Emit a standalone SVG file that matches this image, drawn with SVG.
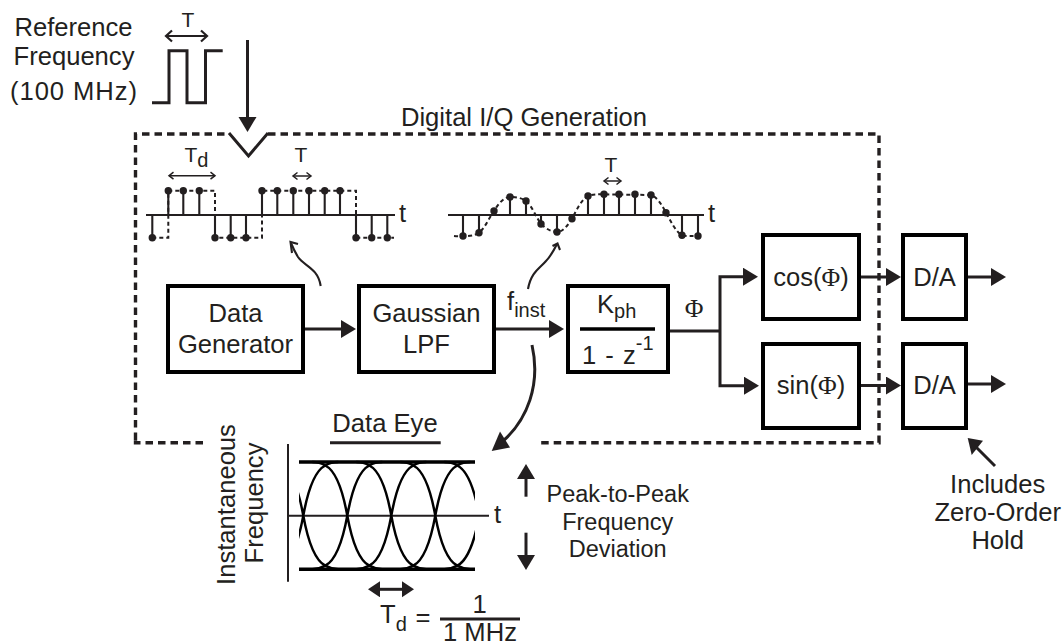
<svg xmlns="http://www.w3.org/2000/svg" width="1062" height="642" viewBox="0 0 1062 642">
<style>
text{font-family:"Liberation Sans",Arial,sans-serif;font-size:25.6px;fill:#231f20;text-anchor:middle}
.l{text-anchor:start}
.phi{font-family:"Liberation Serif","DejaVu Serif",serif}
.sm{font-size:21px}
.sub{font-size:20px}
.p{font-size:23.5px}
.box{fill:#fff;stroke:#000;stroke-width:4}
.w{fill:none;stroke:#231f20;stroke-width:3}
.t{fill:none;stroke:#231f20;stroke-width:2.100}
.d2{fill:none;stroke:#231f20;stroke-width:2;stroke-dasharray:4 3}
.ar{marker-end:url(#arr)}
.dot{fill:#231f20}
</style>
<defs>
<marker id="arr" markerUnits="userSpaceOnUse" markerWidth="18" markerHeight="20" refX="1" refY="9" orient="auto"><path d="M0 0L15 9L0 18z" fill="#231f20"/></marker>
<marker id="chev" markerUnits="userSpaceOnUse" markerWidth="12" markerHeight="14" refX="9" refY="7" orient="auto-start-reverse"><path d="M3 1.500L9 7L3 12.500" fill="none" stroke="#231f20" stroke-width="2.200"/></marker>
<marker id="chevS" markerUnits="userSpaceOnUse" markerWidth="10" markerHeight="10" refX="7" refY="5" orient="auto-start-reverse"><path d="M2.500 1.500L7 5L2.500 8.500" fill="none" stroke="#231f20" stroke-width="1.500"/></marker>
<marker id="solid" markerUnits="userSpaceOnUse" markerWidth="14" markerHeight="18" refX="1" refY="8" orient="auto-start-reverse"><path d="M0 0L12 8L0 16z" fill="#231f20"/></marker>
<clipPath id="eyeclip"><rect x="299" y="455" width="176" height="121"/></clipPath>
<path id="cross" fill="none" stroke="#000" stroke-width="2.500" d="M0 515.600C5 488 13 470 22 465.500C26 463 30 462 35 462M0 515.600C-5 488 -13 470 -22 465.500C-26 463 -30 462 -35 462M0 515.600C5 543 13 561 22 565.700C26 568 30 569.200 35 569.200M0 515.600C-5 543 -13 561 -22 565.700C-26 568 -30 569.200 -35 569.200"/>
</defs>

<g id="connectors">
<path fill="none" stroke="#231f20" stroke-width="3.400" stroke-dasharray="7.500 5" d="M135.500 440V134H229M268 134H879V442.700H539M203 442.700H135.500V440"/>
<path class="w" d="M229 133L248.500 156L268 133"/>
<line class="w ar" x1="247.500" y1="40" x2="247.500" y2="118"/>
<line class="w ar" x1="305" y1="329" x2="342" y2="329"/>
<line class="w ar" x1="496" y1="329" x2="550" y2="329"/>
<path class="w" d="M670 331H720"/>
<path class="w ar" d="M720 331V385.700H745"/>
<path class="w ar" d="M720 331V276.700H744"/>
<line class="w ar" x1="861" y1="277" x2="887" y2="277"/>
<line class="w ar" x1="861" y1="385.500" x2="887" y2="385.500"/>
<line class="w ar" x1="968" y1="277" x2="992" y2="277"/>
<line class="w ar" x1="968" y1="384" x2="992" y2="384"/>
<path class="w" d="M532 345C541 385 527 420 503 441"/>
<path d="M491.700 451L510 447.500L500 431.500z" fill="#231f20"/>
<path class="t" d="M320.700 286C318 268 304 266 298 257C295 252 293 248 291 243"/>
<path class="t" d="M298 244L290.500 242L292 253"/>
<path class="t" d="M528 289C531 272 540 268 546 261C551 256 554 250 557 244"/>
<path class="t" d="M552.500 246L557.500 243.500L560 250"/>
<line class="w" x1="995" y1="466" x2="976" y2="447"/>
<path d="M967.700 438L983 440.700L971.700 455z" fill="#231f20"/>
<line x1="166" y1="36" x2="207" y2="36" stroke="#231f20" stroke-width="2.200" marker-start="url(#chev)" marker-end="url(#chev)"/>
<path d="M152 102.700H169V50.700H187V102.700H205.500V50.700H222.700" fill="none" stroke="#231f20" stroke-width="3"/>
<line x1="169" y1="175.700" x2="215" y2="175.700" stroke="#231f20" stroke-width="1.500" marker-start="url(#chevS)" marker-end="url(#chevS)"/>
<line x1="293" y1="176" x2="311" y2="176" stroke="#231f20" stroke-width="1.500" marker-start="url(#chevS)" marker-end="url(#chevS)"/>
<line x1="604" y1="181" x2="621" y2="181" stroke="#231f20" stroke-width="1.500" marker-start="url(#chevS)" marker-end="url(#chevS)"/>
<line x1="379" y1="589.300" x2="403" y2="589.300" stroke="#231f20" stroke-width="3" marker-start="url(#solid)" marker-end="url(#solid)"/>
<line class="w ar" x1="526" y1="496.700" x2="526" y2="478"/>
<line class="w ar" x1="526" y1="532.700" x2="526" y2="556"/>
</g>

<g id="wave-square">
<path d="M146 215H395" class="t"/>
<path class="d2" d="M152.300 237.700H168.300V190.700H215V237.700H262V190.700H356V237.700H394"/>
<path class="t" d="M152.300 215V237.700M168.300 215V190.700M183.300 215V190.700M199.300 215V190.700M215 215V237.700M230.700 215V237.700M246 215V237.700M262 215V190.700M277.300 215V190.700M293.300 215V190.700M309 215V190.700M324.700 215V190.700M340 215V190.700M356 215V237.700M371.700 215V237.700M387.300 215V237.700"/>
<g class="dot">
<circle cx="152.300" cy="237.700" r="3.700"/><circle cx="168.300" cy="190.700" r="3.700"/><circle cx="183.300" cy="190.700" r="3.700"/><circle cx="199.300" cy="190.700" r="3.700"/><circle cx="215" cy="237.700" r="3.700"/><circle cx="230.700" cy="237.700" r="3.700"/><circle cx="246" cy="237.700" r="3.700"/><circle cx="262" cy="190.700" r="3.700"/><circle cx="277.300" cy="190.700" r="3.700"/><circle cx="293.300" cy="190.700" r="3.700"/><circle cx="309" cy="190.700" r="3.700"/><circle cx="324.700" cy="190.700" r="3.700"/><circle cx="340" cy="190.700" r="3.700"/><circle cx="356" cy="237.700" r="3.700"/><circle cx="371.700" cy="237.700" r="3.700"/><circle cx="387.300" cy="237.700" r="3.700"/>
</g>
<text class="l" x="399" y="222">t</text>
<text class="l sm" x="184.500" y="162">T<tspan class="sub" dy="5">d</tspan></text>
<text class="sm" x="301" y="162">T</text>
</g>

<g id="wave-smooth">
<path d="M448 215H704" class="t"/>
<path class="d2" d="M454 236C465 237 475 236 479 232.700C485 228 489 218 494 211C499 203 504 197 510 197C516 197 522 198 526 201C532 206 536 217 541 224C546 229 552 232 557 232C563 232 568 225 572 218.700C577 209 582 199 588 196C593 194 598 194.300 604 194.300L651 195C657 197 662 205 666 212.700C671 222 676 232 682 235.300C687 236.500 692 236 698 236"/>
<path class="t" d="M463 215V236M479 215V232.700M494 215V211M510 215V197M526 215V201M541 215V224M557 215V232M572 215V218.700M588 215V196M604 215V194.300M619 215V194.300M635 215V194.300M651 215V195M666 215V212.700M682 215V235.300M698 215V236"/>
<g class="dot">
<circle cx="463" cy="236" r="3.700"/><circle cx="479" cy="232.700" r="3.700"/><circle cx="494" cy="211" r="3.700"/><circle cx="510" cy="197" r="3.700"/><circle cx="526" cy="201" r="3.700"/><circle cx="541" cy="224" r="3.700"/><circle cx="557" cy="232" r="3.700"/><circle cx="572" cy="218.700" r="3.700"/><circle cx="588" cy="196" r="3.700"/><circle cx="604" cy="194.300" r="3.700"/><circle cx="619" cy="194.300" r="3.700"/><circle cx="635" cy="194.300" r="3.700"/><circle cx="651" cy="195" r="3.700"/><circle cx="666" cy="212.700" r="3.700"/><circle cx="682" cy="235.300" r="3.700"/><circle cx="698" cy="236" r="3.700"/>
</g>
<text class="l" x="708" y="222">t</text>
<text class="sm" x="611" y="171.700">T</text>
</g>

<g id="data-eye">
<path d="M288 444V581.700M288 515.700H489" fill="none" stroke="#231f20" stroke-width="2"/>
<path d="M299 462H475M299 569.200H475" fill="none" stroke="#000" stroke-width="3.400"/>
<g clip-path="url(#eyeclip)">
<use href="#cross" x="303.300"/><use href="#cross" x="347.300"/><use href="#cross" x="391.300"/><use href="#cross" x="435.300"/><use href="#cross" x="479.300"/>
</g>
<text x="385" y="432">Data Eye</text>
<path d="M330 442.700H440.700" stroke="#231f20" stroke-width="3"/>
<text transform="translate(235 504.500) rotate(-90)">Instantaneous</text>
<text transform="translate(263 503) rotate(-90)">Frequency</text>
<text class="l" x="494" y="522.700">t</text>
<text class="l" x="380" y="623">T<tspan class="sub" dy="8">d</tspan></text>
<text x="423" y="625.500">=</text>
<path d="M440 619H520" stroke="#231f20" stroke-width="3"/>
<text x="479.500" y="612.500">1</text>
<text x="480" y="640.700">1 MHz</text>
<text class="p" x="617.700" y="501.700">Peak-to-Peak</text>
<text class="p" x="617.700" y="530">Frequency</text>
<text class="p" x="617.700" y="557">Deviation</text>
</g>

<g id="reference">
<text x="73.500" y="36">Reference</text>
<text x="74" y="65">Frequency</text>
<text class="l" x="10" y="100" textLength="127">(100 MHz)</text>
<text class="sm" x="188" y="27">T</text>
</g>
<g id="title"><text x="524" y="126">Digital I/Q Generation</text></g>

<g id="data-generator"><rect class="box" x="168" y="286" width="135" height="86"/><text x="235.500" y="322">Data</text><text x="235.500" y="353">Generator</text></g>
<g id="gaussian-lpf"><rect class="box" x="359" y="286" width="135" height="86"/><text x="426.500" y="322">Gaussian</text><text x="426.500" y="353">LPF</text></g>
<g id="finst"><text class="l" x="507" y="310">f<tspan class="sub" dy="7">inst</tspan></text></g>
<g id="accumulator"><rect class="box" x="568" y="286" width="100" height="86"/><path d="M580 329H655" stroke="#000" stroke-width="3.500"/><text class="l" x="597" y="313">K<tspan class="sub" dy="5">ph</tspan></text><text class="l" x="582" y="364" word-spacing="2">1 - z<tspan class="sub" dy="-14">-1</tspan></text></g>
<g id="phi"><text class="phi" x="694" y="317">Φ</text></g>
<g id="cos"><rect class="box" x="763" y="235" width="96" height="84"/><text x="811" y="286">cos(<tspan class="phi">Φ</tspan>)</text></g>
<g id="sin"><rect class="box" x="763" y="344" width="96" height="84"/><text x="811" y="394">sin(<tspan class="phi">Φ</tspan>)</text></g>
<g id="da1"><rect class="box" x="903" y="235" width="63" height="84"/><text x="934.500" y="286">D/A</text></g>
<g id="da2"><rect class="box" x="903" y="344" width="63" height="84"/><text x="934.500" y="394">D/A</text></g>
<g id="zoh-note"><text x="997.700" y="493">Includes</text><text x="997.700" y="521">Zero-Order</text><text x="997.700" y="549">Hold</text></g>
</svg>
